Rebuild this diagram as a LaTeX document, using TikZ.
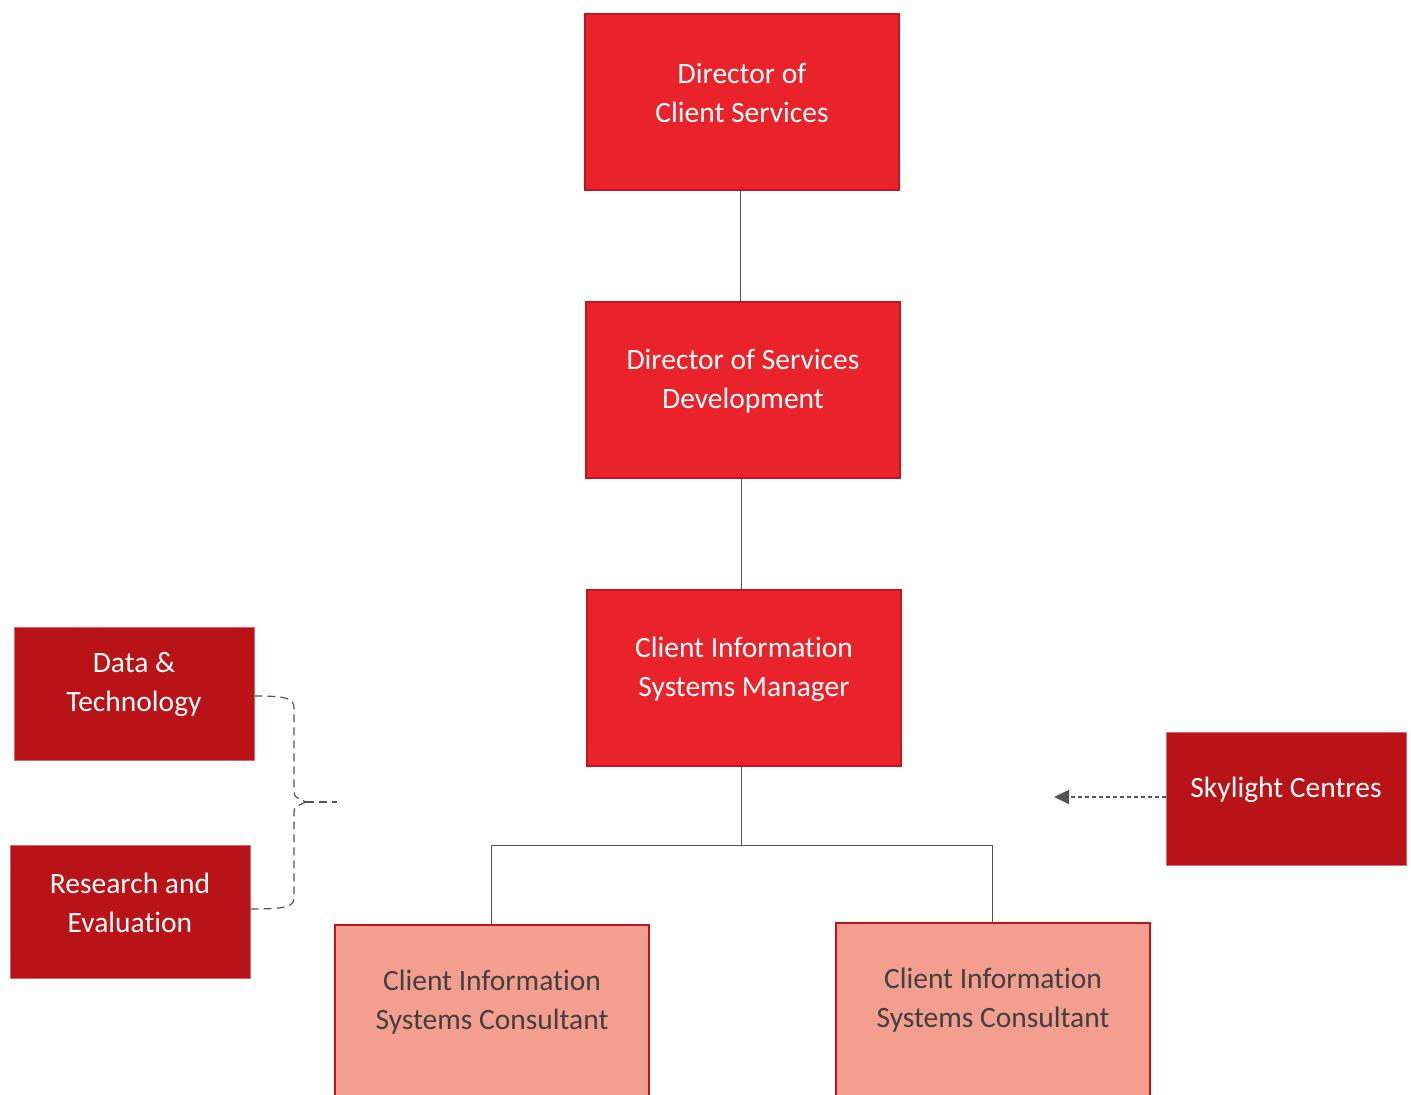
\documentclass[tikz,border=0pt]{standalone}
\usepackage{fontspec}
\setmainfont{Carlito}[Ligatures={NoCommon}]
\usetikzlibrary{arrows.meta,calc}
\definecolor{bright}{HTML}{EA222A}
\definecolor{brightline}{HTML}{C0161D}
\definecolor{deep}{HTML}{B91217}
\definecolor{deepline}{HTML}{D86870}
\definecolor{pale}{HTML}{F49E8F}
\definecolor{paleline}{HTML}{B8161D}
\definecolor{linegray}{HTML}{555555}
\definecolor{textgray}{HTML}{404040}
\tikzset{
  box/.style={rectangle, minimum width=314pt, minimum height=176pt, inner sep=0pt},
  topbox/.style={box, fill=bright, draw=brightline, line width=2pt},
  sidebox/.style={rectangle, minimum width=240pt, minimum height=133pt, inner sep=0pt, fill=deep, draw=deepline, line width=0.8pt},
  consbox/.style={box, minimum height=180pt, fill=pale, draw=paleline, line width=2pt},
  lbl/.style={align=center, font=\fontsize{29.5}{39}\selectfont, inner sep=0pt, text=white},
  dlbl/.style={lbl, text=textgray},
  conn/.style={draw=linegray, line width=1pt},
  bracedash/.style={draw=linegray, line width=1.2pt, dash pattern=on 8pt off 5pt},
  arrdash/.style={draw=linegray, line width=1.2pt, dash pattern=on 4pt off 3pt}
}
\begin{document}
\begin{tikzpicture}[x=1pt,y=-1pt]
\useasboundingbox (0,0) rectangle (1411,1095);
\clip (0,0) rectangle (1411,1095);
% main chain
\node[topbox] (dcs) at (742,101.5) {};
\node[lbl] (tdcs) at ([yshift=9pt]dcs.center) {Director of\\Client Services};
\node[topbox] (dsd) at (743,390) {};
\node[lbl] (tdsd) at ([yshift=9pt]dsd.center) {Director of Services\\Development};
\node[topbox] (cism) at (744,678) {};
\node[lbl] (tcism) at ([yshift=9pt]cism.center) {Client Information\\Systems Manager};
% consultants
\node[consbox,anchor=north] (c1) at (492,924) {};
\node[dlbl] (tc1) at (492,1002) {Client Information\\Systems Consultant};
\node[consbox,anchor=north] (c2) at (993,922) {};
\node[dlbl] (tc2) at (993,1000) {Client Information\\Systems Consultant};
% side boxes
\node[sidebox] (dt) at (134,693.5) {};
\node[lbl] (tdt) at ([yshift=9pt]dt.center) {Data \&\\Technology};
\node[sidebox] (re) at (130,911.5) {};
\node[lbl] (tre) at ([yshift=9pt]re.center) {Research and\\Evaluation};
\node[sidebox] (sky) at (1286,798.5) {};
\node[lbl] (tsky) at ([yshift=9pt]sky.center) {Skylight Centres};
% connectors
\draw[conn] (dcs.south -| 740,0) -- (dsd.north -| 740,0);
\draw[conn] (dsd.south -| 741,0) -- (cism.north -| 741,0);
\coordinate (junc) at (741,845);
\draw[conn] (cism.south -| junc) -- (junc);
\draw[conn] (c1.north -| 491,0) |- (junc) -| (c2.north -| 992,0);
% brace
\coordinate (bracetip) at (337,802);
\draw[bracedash] ($(dt.east)+(0,2.5)$) .. controls (286,696) and (294,698) .. (294,708) -- (294,792)
  .. controls (294,797) and (297,798) .. (306,802);
\draw[bracedash] (306,802) .. controls (297,806) and (294,807) .. (294,812) -- (294,898)
  .. controls (294,907) and (285,909) .. ($(re.east)+(0,-2.5)$);
\draw[bracedash] (306,802) -- (bracetip);
% arrow
\coordinate (arrend) at (1054,797);
\draw[arrdash, -{Triangle[length=15pt,width=14pt]}] ($(sky.west)+(0,-1.5)$) -- (arrend);
\end{tikzpicture}
\end{document}
